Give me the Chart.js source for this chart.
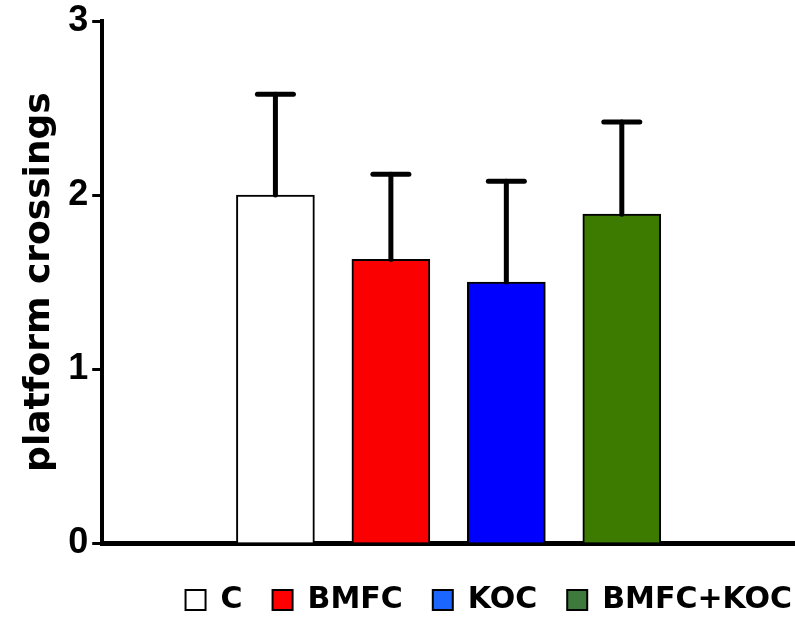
<!DOCTYPE html>
<html>
<head>
<meta charset="utf-8">
<script src="https://cdn.jsdelivr.net/npm/chart.js@4.4.1/dist/chart.umd.min.js"></script>
<style>
  html, body { margin: 0; padding: 0; background: #fff; }
  #wrap { width: 795px; height: 617px; }
</style>
</head>
<body>
<div id="wrap"><canvas id="myChart" width="795" height="617"></canvas></div>
<script>
// slots on the x axis: empty slot on each side like the original plot
var etiquetas = ['', 'C', 'BMFC', 'KOC', 'BMFC+KOC', ''];
var grupos = ['C', 'BMFC', 'KOC', 'BMFC+KOC'];
var medias = [2.0, 1.63, 1.5, 1.89];
var errores = [0.58, 0.49, 0.58, 0.53];   // SEM, only drawn upwards
var ticksY = [0, 1, 2, 3];

var coloresBarra = ['#ffffff', '#fa0000', '#0000ff', '#3d7a00'];
var coloresLeyenda = ['#ffffff', '#ff0000', '#1a66ff', '#3f7a3d'];

// one dataset per group, each only has a value in its own slot
var datasets = grupos.map(function (g, i) {
  var d = etiquetas.map(function () { return null; });
  d[i + 1] = medias[i];
  return {
    label: g,
    data: d,
    backgroundColor: coloresBarra[i],
    borderColor: '#000000',
    borderWidth: 2,
    barThickness: 78,
    errorBar: errores[i]
  };
});

const errorBarsPlugin = {
  id: 'errorBars',
  afterDatasetsDraw: function (chart) {
    const ctx = chart.ctx;
    const y = chart.scales.y;
    ctx.save();
    ctx.strokeStyle = '#000';
    ctx.lineCap = 'round';
    chart.data.datasets.forEach(function (ds, i) {
      const meta = chart.getDatasetMeta(i);
      meta.data.forEach(function (bar, j) {
        const v = ds.data[j];
        if (v === null) return;
        const x = bar.x;
        const yTop = y.getPixelForValue(v + ds.errorBar);
        const yBase = y.getPixelForValue(v);
        ctx.lineWidth = 5;
        ctx.beginPath();
        ctx.moveTo(x, yBase);
        ctx.lineTo(x, yTop);
        ctx.stroke();
        ctx.beginPath();
        ctx.moveTo(x - 18, yTop);
        ctx.lineTo(x + 18, yTop);
        ctx.stroke();
      });
    });
    ctx.restore();
  }
};

// legend sits flush with the right edge in the original (no trailing gap)
const legendShift = {
  id: 'legendShift',
  afterLayout: function (chart) {
    const lg = chart.legend;
    lg.right += lg.options.labels.padding - 3;
  }
};

var ctx = document.getElementById('myChart');

var myChart = new Chart(ctx, {
  type: 'bar',
  data: {
    labels: etiquetas,
    datasets: datasets
  },
  options: {
    responsive: false,
    animation: false,
    devicePixelRatio: 1,
    datasets: { bar: { grouped: false, skipNull: true } },
    layout: {
      padding: { left: 18, right: 0, top: 0, bottom: -8 }
    },
    scales: {
      x: {
        offset: true,
        grid: { display: false },
        border: { display: true, color: '#000', width: 5 },
        ticks: { display: false },
        afterFit: function (axis) { axis.height = 12; }
      },
      y: {
        min: 0,
        max: 3,
        afterBuildTicks: function (axis) {
          axis.ticks = ticksY.map(function (v) { return { value: v }; });
        },
        grid: {
          drawOnChartArea: false,
          drawTicks: true,
          tickLength: 10,
          tickWidth: 3,
          tickColor: '#000'
        },
        border: { display: true, color: '#000', width: 4 },
        ticks: {
          color: '#000',
          padding: 4,
          font: { family: 'Liberation Sans', size: 36, weight: 'bold', lineHeight: 0.95 }
        },
        title: {
          display: true,
          text: 'platform crossings',
          color: '#000',
          padding: { top: 0, bottom: 3 },
          font: { family: 'DejaVu Sans', size: 36, weight: 'bold' }
        }
      }
    },
    plugins: {
      legend: {
        position: 'bottom',
        align: 'end',
        labels: {
          boxWidth: 20,
          boxHeight: 20,
          padding: 30,
          color: '#000',
          font: { family: 'DejaVu Sans', size: 30, weight: 'bold' },
          generateLabels: function (chart) {
            return grupos.map(function (g, i) {
              return {
                text: g,
                fillStyle: coloresLeyenda[i],
                strokeStyle: '#000',
                lineWidth: 2,
                datasetIndex: i,
                hidden: false
              };
            });
          }
        }
      },
      tooltip: { enabled: false }
    }
  },
  plugins: [errorBarsPlugin, legendShift]
});
</script>
</body>
</html>
